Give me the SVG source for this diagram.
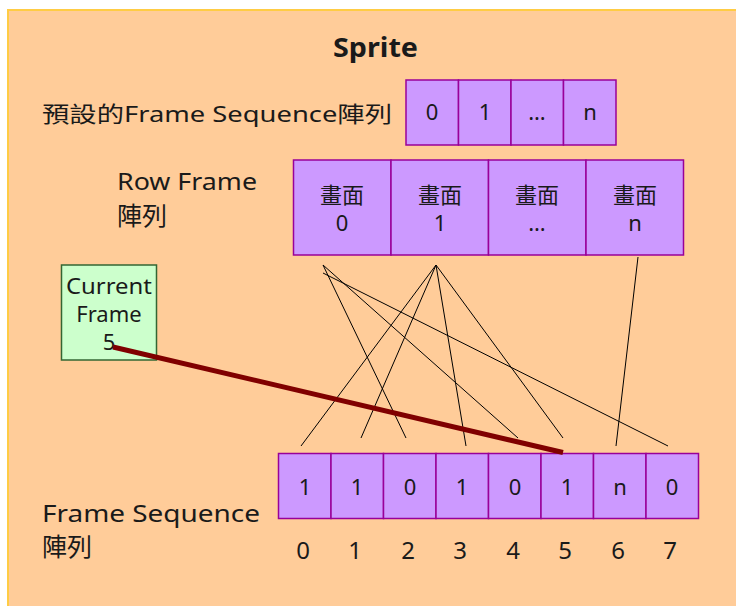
<svg xmlns="http://www.w3.org/2000/svg" width="736" height="606" viewBox="0 0 736 606">
  <style>
    .txt { font-family: "Noto Sans", "Noto Sans CJK TC", sans-serif; fill: #1a1a1a; }
    .cell { fill: #CC99FF; stroke: #990099; stroke-width: 1.5; }
    .num { font-size: 22px; text-anchor: middle; }
    .idx { font-size: 24px; text-anchor: middle; }
    .link { stroke: #000; stroke-width: 1; fill: none; }
  </style>

  <!-- panel -->
  <rect x="8" y="10" width="760" height="640" fill="#FFCC99" stroke="#FFCC44" stroke-width="2"/>

  <text class="txt" x="333" y="57" font-size="27" font-weight="bold" fill="#000" textLength="85" lengthAdjust="spacingAndGlyphs">Sprite</text>

  <!-- default frame sequence -->
  <g id="default-sequence">
    <text class="txt" x="42" y="122" font-size="22" textLength="350" lengthAdjust="spacingAndGlyphs">預設的Frame Sequence陣列</text>
    <rect class="cell" x="406" y="80" width="52.5" height="65"/>
    <rect class="cell" x="458.5" y="80" width="52.5" height="65"/>
    <rect class="cell" x="511" y="80" width="52.5" height="65"/>
    <rect class="cell" x="563.5" y="80" width="52.5" height="65"/>
    <text class="txt num" x="432" y="120">0</text>
    <text class="txt num" x="485" y="120">1</text>
    <text class="txt num" x="537" y="120">…</text>
    <text class="txt num" x="590" y="120">n</text>
  </g>

  <!-- row frame array -->
  <g id="row-frames">
    <text class="txt" x="117" y="190" font-size="24" textLength="140" lengthAdjust="spacingAndGlyphs">Row Frame</text>
    <text class="txt" x="117" y="225" font-size="25">陣列</text>
    <rect class="cell" x="293.5" y="160" width="97.5" height="95"/>
    <rect class="cell" x="391" y="160" width="97.5" height="95"/>
    <rect class="cell" x="488.5" y="160" width="97.5" height="95"/>
    <rect class="cell" x="586" y="160" width="97.5" height="95"/>
    <text class="txt num" x="342" y="203">畫面</text>
    <text class="txt num" x="342" y="231">0</text>
    <text class="txt num" x="440" y="203">畫面</text>
    <text class="txt num" x="440" y="231">1</text>
    <text class="txt num" x="537" y="203">畫面</text>
    <text class="txt num" x="537" y="231">…</text>
    <text class="txt num" x="635" y="203">畫面</text>
    <text class="txt num" x="635" y="231">n</text>
  </g>

  <!-- current frame -->
  <g id="current-frame">
    <rect x="61.5" y="265" width="95" height="95" fill="#CCFFCC" stroke="#336633" stroke-width="1.5"/>
    <text class="txt num" x="109" y="294" font-size="23" textLength="86" lengthAdjust="spacingAndGlyphs">Current</text>
    <text class="txt num" x="109" y="322" font-size="23">Frame</text>
    <text class="txt num" x="109" y="350" font-size="23">5</text>
  </g>

  <!-- frame sequence -->
  <g id="frame-sequence">
    <text class="txt" x="42" y="522" font-size="24" textLength="218" lengthAdjust="spacingAndGlyphs">Frame Sequence</text>
    <text class="txt" x="42" y="556" font-size="25">陣列</text>
    <rect class="cell" x="278.5" y="453.5" width="52.5" height="65"/>
    <rect class="cell" x="331" y="453.5" width="52.5" height="65"/>
    <rect class="cell" x="383.5" y="453.5" width="52.5" height="65"/>
    <rect class="cell" x="436" y="453.5" width="52.5" height="65"/>
    <rect class="cell" x="488.5" y="453.5" width="52.5" height="65"/>
    <rect class="cell" x="541" y="453.5" width="52.5" height="65"/>
    <rect class="cell" x="593.5" y="453.5" width="52.5" height="65"/>
    <rect class="cell" x="646" y="453.5" width="52.5" height="65"/>
    <text class="txt num" x="305" y="495">1</text>
    <text class="txt num" x="357" y="495">1</text>
    <text class="txt num" x="410" y="495">0</text>
    <text class="txt num" x="462" y="495">1</text>
    <text class="txt num" x="515" y="495">0</text>
    <text class="txt num" x="567" y="495">1</text>
    <text class="txt num" x="620" y="495">n</text>
    <text class="txt num" x="672" y="495">0</text>
    <text class="txt idx" x="303" y="559">0</text>
    <text class="txt idx" x="355" y="559">1</text>
    <text class="txt idx" x="408" y="559">2</text>
    <text class="txt idx" x="460" y="559">3</text>
    <text class="txt idx" x="513" y="559">4</text>
    <text class="txt idx" x="565" y="559">5</text>
    <text class="txt idx" x="618" y="559">6</text>
    <text class="txt idx" x="670" y="559">7</text>
  </g>

  <!-- connectors -->
  <g id="connectors">
    <line class="link" x1="323" y1="265" x2="406" y2="438"/>
    <line class="link" x1="323" y1="265" x2="518" y2="438"/>
    <line class="link" x1="323" y1="273" x2="668" y2="446"/>
    <line class="link" x1="436" y1="265" x2="301" y2="446"/>
    <line class="link" x1="436" y1="265" x2="361" y2="438"/>
    <line class="link" x1="436" y1="265" x2="466" y2="446"/>
    <line class="link" x1="436" y1="265" x2="563" y2="438"/>
    <line class="link" x1="638" y1="257" x2="616" y2="446"/>
    <line x1="113" y1="347" x2="563" y2="452.5" stroke="#800000" stroke-width="5"/>
  </g>
</svg>
